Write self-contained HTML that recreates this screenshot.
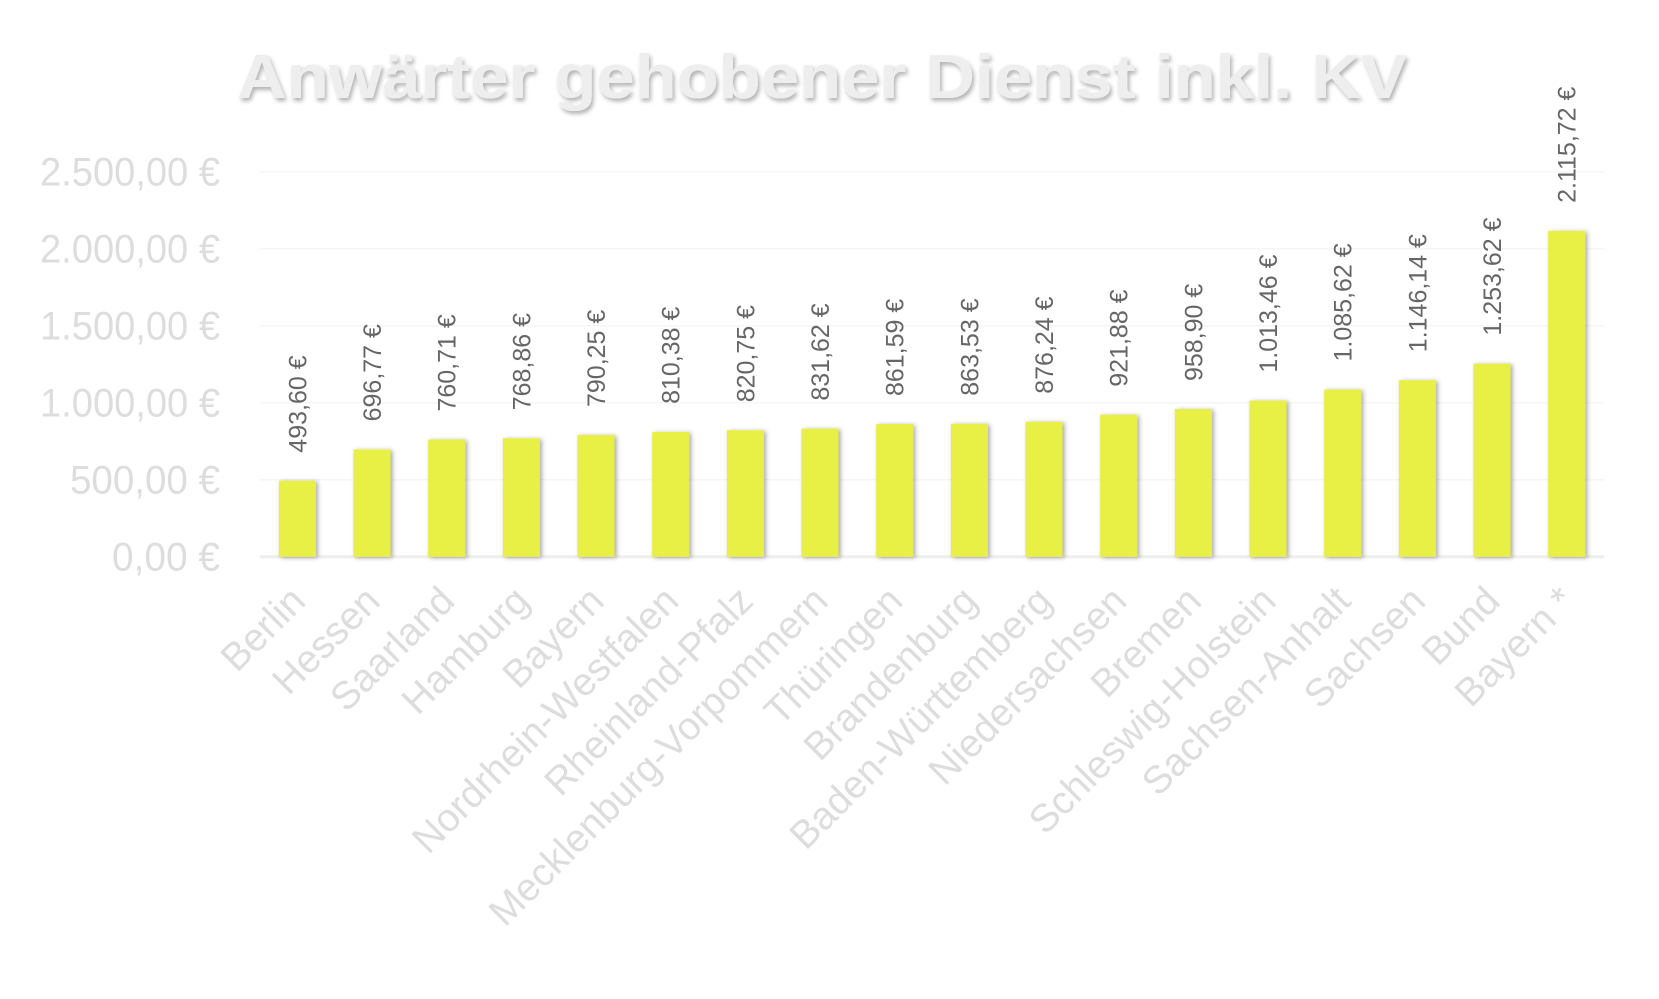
<!DOCTYPE html>
<html><head><meta charset="utf-8"><style>
html,body{margin:0;padding:0;background:#fff;}
svg{display:block;font-family:"Liberation Sans",sans-serif;}
</style></head><body>
<svg id="chart" width="1659" height="999" viewBox="0 0 1659 999">
<defs>
<filter id="sh" x="-30%" y="-10%" width="160%" height="120%"><feDropShadow dx="2" dy="1" stdDeviation="2.5" flood-color="#000" flood-opacity="0.35"/></filter>
<filter id="tsh" x="-5%" y="-30%" width="110%" height="160%"><feDropShadow dx="2" dy="3" stdDeviation="2" flood-color="#000" flood-opacity="0.3"/></filter>
</defs>
<text x="822" y="98" text-anchor="middle" font-size="62" font-weight="bold" fill="#eeeeee" filter="url(#tsh)" textLength="1170" lengthAdjust="spacingAndGlyphs">Anwärter gehobener Dienst inkl. KV</text>
<g id="grid"></g><g id="yaxis"></g><g id="bars"></g><g id="vals"></g><g id="xaxis"></g>
</svg>
<script>
const categories=["Berlin","Hessen","Saarland","Hamburg","Bayern","Nordrhein-Westfalen","Rheinland-Pfalz","Mecklenburg-Vorpommern","Thüringen","Brandenburg","Baden-Württemberg","Niedersachsen","Bremen","Schleswig-Holstein","Sachsen-Anhalt","Sachsen","Bund","Bayern *"];
const values=[493.60,696.77,760.71,768.86,790.25,810.38,820.75,831.62,861.59,863.53,876.24,921.88,958.90,1013.46,1085.62,1146.14,1253.62,2115.72];
const yTicks=[0,500,1000,1500,2000,2500];
const NS="http://www.w3.org/2000/svg";
const x0=260,x1=1604,y0=556.7,yTop=171.7,maxV=2500;
const step=(x1-x0)/categories.length;
function xScale(i){return x0+step*(i+0.5);}
function yScale(v){return y0-(v/maxV)*(y0-yTop);}
function fmt(v){let s=v.toFixed(2).split(".");return s[0].replace(/\B(?=(\d{3})+(?!\d))/g,".")+","+s[1]+" €";}
function mk(tag,attrs,parent){const e=document.createElementNS(NS,tag);for(const k in attrs)e.setAttribute(k,attrs[k]);document.getElementById(parent).appendChild(e);return e;}
yTicks.forEach(t=>{
  const l=mk("line",{x1:x0,x2:x1,y1:yScale(t),y2:yScale(t),stroke:t===0?"#eeeeee":"#f6f6f6","stroke-width":t===0?3:1.5},"grid");
  
  
  const tx=mk("text",{x:220,y:yScale(t)+14,"text-anchor":"end","font-size":40,fill:"#dddddd",textLength:t>=1000?180:(t>0?150:108),lengthAdjust:"spacingAndGlyphs"},"yaxis");
  tx.textContent=fmt(t);
  
  
});
const bw=37;
values.forEach((v,i)=>{
  const cx=xScale(i);
  const r=mk("rect",{x:cx-bw/2,y:yScale(v),width:bw,height:y0-yScale(v),fill:"#e8ef45",filter:"url(#sh)"},"bars");
  
  
  const ty=yScale(v)-28;
  const t=mk("text",{x:cx+9,y:ty,transform:`rotate(-90 ${cx+9} ${ty})`,"font-size":25,fill:"#666666"},"vals");
  t.textContent=fmt(v);
  
  
  const lx=cx+10,ly=603;
  const c=mk("text",{x:lx,y:ly,"text-anchor":"end",transform:`rotate(-45 ${lx} ${ly})`,"font-size":39,fill:"#dddddd"},"xaxis");
  c.textContent=categories[i];
  
  
});
</script>
</body></html>
